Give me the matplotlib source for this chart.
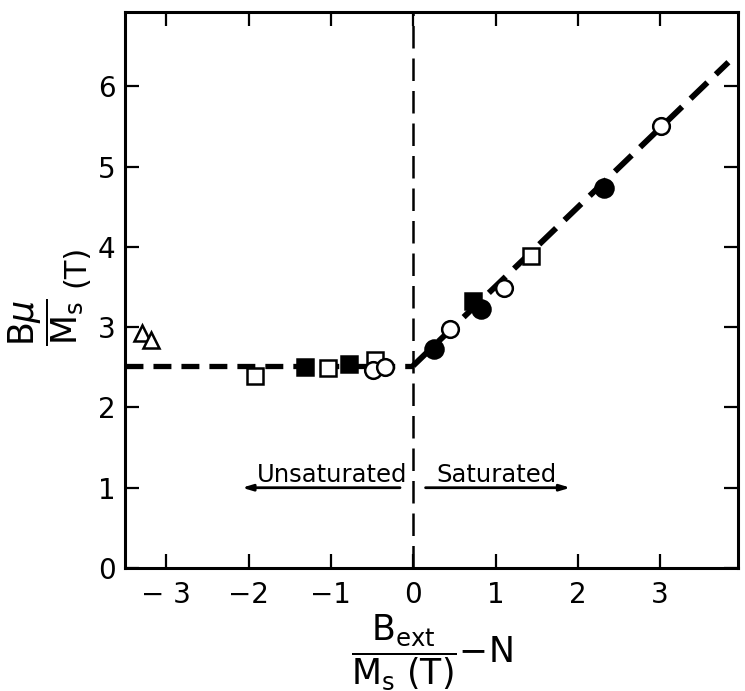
import matplotlib
matplotlib.use("Agg")
import matplotlib.pyplot as plt

plt.rcParams['font.family'] = ['DejaVu Sans']
plt.rcParams['mathtext.fontset'] = 'dejavusans'

# ---- data ----
open_circle_x = [-0.49, -0.34, 0.45, 1.10, 3.01]
open_circle_y = [2.47, 2.50, 2.98, 3.49, 5.50]
filled_circle_x = [0.25, 0.82, 2.32]
filled_circle_y = [2.73, 3.22, 4.73]
open_square_x = [-1.92, -1.04, -0.46, 1.43]
open_square_y = [2.39, 2.49, 2.59, 3.89]
filled_square_x = [-1.31, -0.78, 0.73]
filled_square_y = [2.50, 2.54, 3.32]
triangle_x = [-3.29, -3.19]
triangle_y = [2.93, 2.84]

flat_x = [-3.5, 0.0]
flat_y = [2.52, 2.52]
slope_x = [0.0, 3.83]
slope_y = [2.52, 6.30]

xticks = [-3, -2, -1, 0, 1, 2, 3]
xticklabels = ['\u2212 3', '\u22122', '\u22121', '0', '1', '2', '3']
yticks = [0, 1, 2, 3, 4, 5, 6]
yticklabels = ['0', '1', '2', '3', '4', '5', '6']

fig = plt.figure(figsize=(7.45, 6.91), dpi=100)
ax = fig.add_axes([0.168, 0.178, 0.823, 0.804])
ax.set_xlim(-3.5, 3.95)
ax.set_ylim(0, 6.92)

# vertical dashed separator
ax.axvline(0, color='k', lw=1.8, dashes=(9, 4), zorder=1)

# fitted lines
ax.plot(flat_x, flat_y, color='k', lw=3.8, dashes=(3.4, 1.9), zorder=2)
ax.plot(slope_x, slope_y, color='k', lw=4.2, dashes=(4.0, 2.0), zorder=2)

mk = dict(linestyle='none', markeredgecolor='k', markeredgewidth=1.8, zorder=3)
ax.plot(open_square_x, open_square_y, marker='s', ms=11, markerfacecolor='white', **mk)
ax.plot(filled_square_x, filled_square_y, marker='s', ms=11, markerfacecolor='k', **mk)
ax.plot(open_circle_x, open_circle_y, marker='o', ms=12, markerfacecolor='white', **mk)
ax.plot(filled_circle_x, filled_circle_y, marker='o', ms=13, markerfacecolor='k', **mk)
ax.plot(triangle_x, triangle_y, marker='^', ms=12, markerfacecolor='white', **mk)

# annotations
ax.text(-0.98, 1.07, 'Unsaturated', fontsize=17.5, ha='center', va='baseline')
ax.text(1.01, 1.07, 'Saturated', fontsize=17.5, ha='center', va='baseline')
ax.annotate('', xy=(-2.08, 1.0), xytext=(-0.16, 1.0),
            arrowprops=dict(arrowstyle='-|>,head_length=0.6,head_width=0.18',
                            lw=2, color='k', shrinkA=0, shrinkB=0))
ax.annotate('', xy=(1.91, 1.0), xytext=(0.15, 1.0),
            arrowprops=dict(arrowstyle='-|>,head_length=0.6,head_width=0.18',
                            lw=2, color='k', shrinkA=0, shrinkB=0))

# axes styling
for s in ax.spines.values():
    s.set_linewidth(2.2)
ax.set_xticks(xticks)
ax.set_xticklabels(xticklabels)
ax.set_yticks(yticks)
ax.set_yticklabels(yticklabels)
ax.tick_params(direction='in', length=10, width=1.6, labelsize=20,
               top=True, right=True, pad=7)
ax.tick_params(axis='x', pad=9)

# axis labels
fig.text(46/745, 1 - 322/691, r'$\dfrac{\mathrm{B}\mu}{\mathrm{M_s}}$', rotation=90,
         fontsize=25, ha='center', va='center')
fig.text(76/745, 1 - 266/691, '(T)', rotation=90, fontsize=22,
         ha='center', va='center')
fig.text(432/745, 1 - 652/691,
         r'$\dfrac{\mathrm{B_{ext}}}{\mathrm{M_s\ (T)}}{-}\mathrm{N}$',
         fontsize=25, ha='center', va='center')

fig.savefig('out.png', dpi=100)
